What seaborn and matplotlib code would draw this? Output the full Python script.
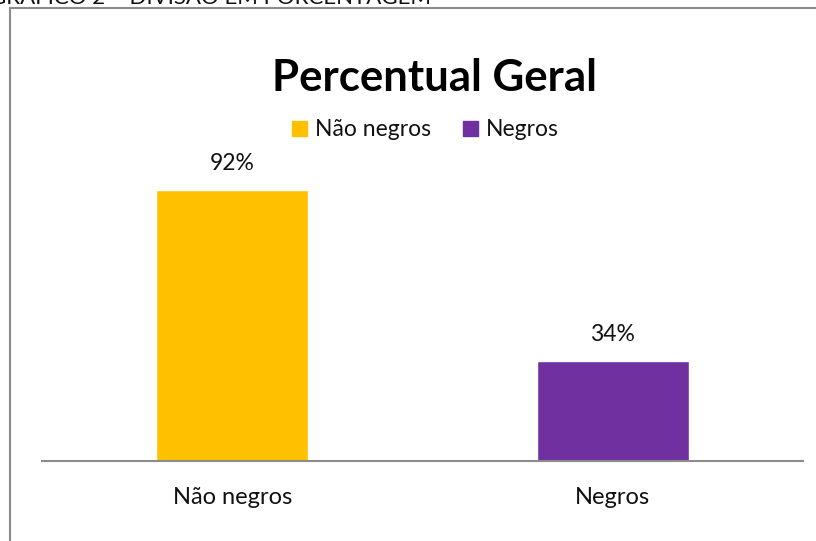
import matplotlib
matplotlib.use('Agg')
import matplotlib.pyplot as plt
import seaborn as sns
from matplotlib.patches import Patch, Rectangle

categorias = ['Não negros', 'Negros']
percentuais = [92, 34]
cores = ['#FFC000', '#7030A0']
titulo = 'Percentual Geral'
cabecalho = 'GRÁFICO 2 – DIVISÃO EM PORCENTAGEM'

sns.set_style('white')
plt.rcParams['font.family'] = ['Lato', 'DejaVu Sans']
plt.rcParams['text.color'] = '#111111'

fig = plt.figure(figsize=(8.16, 5.41), dpi=100)
ax = fig.add_axes([42 / 816, 80 / 541, 761 / 816, 295 / 541])

sns.barplot(x=categorias, y=percentuais, hue=categorias, palette=cores,
            width=0.4, legend=False, ax=ax, saturation=1)

for c in ax.containers:
    ax.bar_label(c, fmt='%d%%', padding=11, fontsize=16.5, color='#111111')

ax.set_ylim(0, 100)
ax.set_yticks([])
ax.tick_params(axis='x', length=0, labelsize=17, pad=19, colors='#111111')
for s in ['top', 'left', 'right']:
    ax.spines[s].set_visible(False)
ax.spines['bottom'].set_color('#8c8c8c')
ax.spines['bottom'].set_linewidth(1.5)

handles = [Patch(color=c, label=l) for c, l in zip(cores, categorias)]
fig.legend(handles=handles, loc='center', bbox_to_anchor=(425 / 816, 1 - 130 / 541),
           ncol=2, frameon=False, fontsize=16.5, handlelength=0.65, handleheight=0.65,
           handletextpad=0.35, columnspacing=1.4)

fig.text(434 / 816, 1 - 78 / 541, titulo, ha='center', va='center',
         fontsize=31.5, fontweight='bold', color='black')

# moldura do gráfico e cabeçalho cortado do documento
fig.patches.append(Rectangle((10 / 816, -0.05), 1.0, 1 - 7.5 / 541 + 0.05,
                             transform=fig.transFigure, fill=False,
                             edgecolor='#8c8c8c', linewidth=1.5))
fig.text(-0.012, 1 - 4 / 541, cabecalho, ha='left', va='baseline', fontsize=16)

fig.savefig('out.png', dpi=100)
